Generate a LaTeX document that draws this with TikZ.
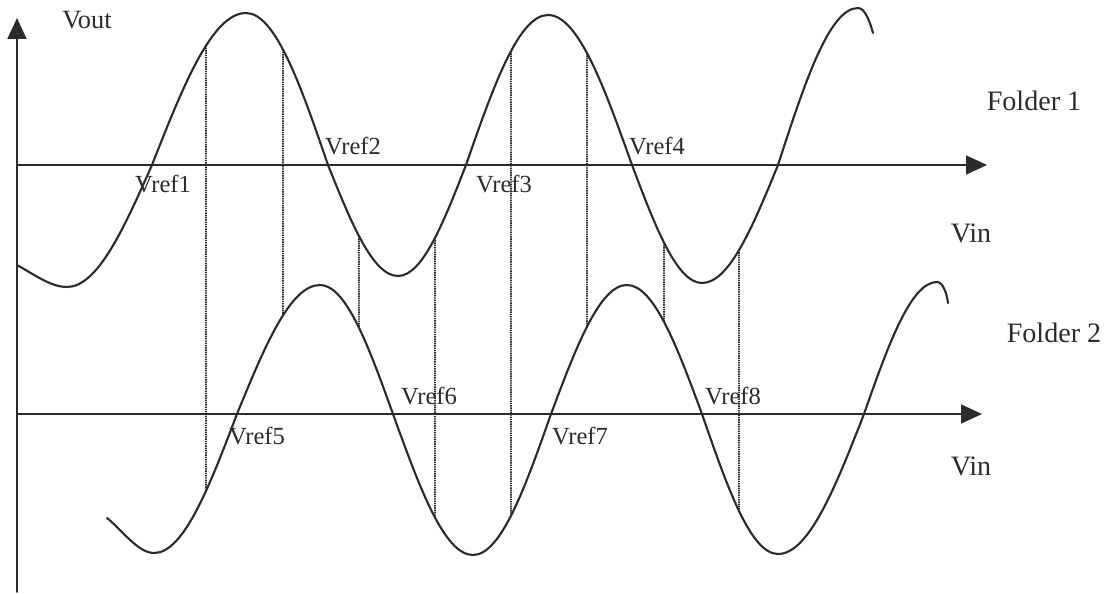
\documentclass[tikz,border=0pt]{standalone}
\usepackage{fontspec}
\setmainfont{Liberation Serif}
\usepackage{tikz}
\usetikzlibrary{arrows.meta,intersections}
\definecolor{inkgray}{HTML}{2B2B2B}
\tikzset{
  every picture/.append style={line cap=round,line join=round},
  fold axis/.style={inkgray,line width=1pt,-{Triangle[length=0.42cm,width=0.38cm]}},
  fold curve/.style={inkgray,line width=1.2pt},
  fold guide/.style={inkgray,line width=1.1pt,line cap=butt,dash pattern=on 0.8pt off 0.5pt},
  fold ref/.style={text=inkgray,font=\fontsize{14}{16}\selectfont,inner sep=0pt},
  fold note/.style={text=inkgray,font=\fontsize{16}{18}\selectfont,inner sep=0pt}
}

\begin{document}
\begin{tikzpicture}[x=0.02cm,y=-0.02cm]
\useasboundingbox (0,0) rectangle (1106,594);
% axes
\coordinate (origin) at (17,592);
\coordinate (vtop) at (17,18);
\coordinate (axis1) at (17,165);
\coordinate (axis1end) at (987,165);
\coordinate (axis2) at (17,414);
\coordinate (axis2end) at (982,414);
\draw[fold axis] (origin) -- (vtop);
\draw[fold axis] (axis1) -- (axis1end);
\draw[fold axis] (axis2) -- (axis2end);

% folder outputs
\draw[fold curve,name path=fold1]
  (17,265) .. controls (38,277) and (52,287) .. (67,287)
  cos (152,165) sin (246,13) cos (328,165) sin (398,276)
  cos (466,165) sin (548,15) cos (632,165) sin (702,283)
  cos (778,165) sin (858,8)
  .. controls (865,8) and (870,22) .. (873,33);
\draw[fold curve,name path=fold2]
  (107,518) .. controls (122,530) and (138,553) .. (154,553)
  cos (237,414) sin (320,285) cos (393,414) sin (473,555)
  cos (551,414) sin (627,285) cos (702,414) sin (778,554)
  cos (864,414) sin (937,282)
  .. controls (943,282) and (947,294) .. (948,303);

% dotted guides between the folds
\foreach \x [count=\i] in {206,283,359,435,511,587,664,739}{
  \path[name path=cut\i] (\x,0) -- (\x,594);
  \path[name intersections={of=fold1 and cut\i,by=top\i}];
  \path[name intersections={of=fold2 and cut\i,by=bot\i}];
  \draw[fold guide] (top\i) -- (bot\i);
}

\node[fold note,font=\fontsize{15}{17}\selectfont] (vout) at (87,20) {Vout};
\node[fold note] (folder1) at (1034,101) {Folder 1};
\node[fold note] (vin1) at (971,233) {Vin};
\node[fold note] (folder2) at (1054,333) {Folder 2};
\node[fold note] (vin2) at (971,466) {Vin};
\foreach \lab/\x/\y in {
  1/163/184,
  2/353/146,
  3/504/184,
  4/657/146,
  5/257/436,
  6/429/396,
  7/580/436,
  8/733/396
}{
  \node[fold ref] (vref\lab) at (\x,\y) {Vref\lab};
}
\end{tikzpicture}
\end{document}
